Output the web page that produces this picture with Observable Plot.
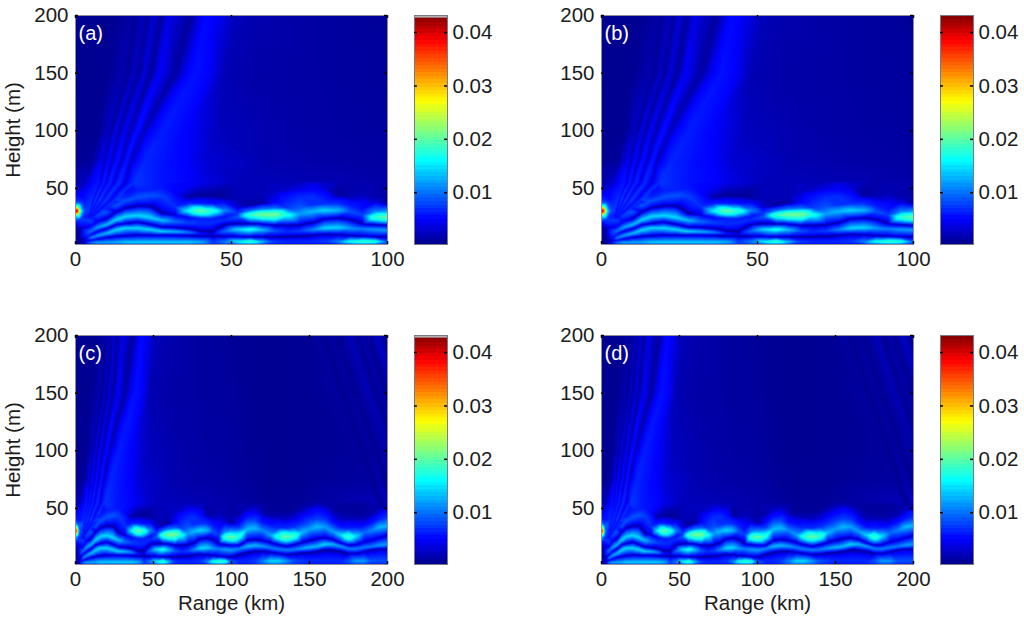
<!DOCTYPE html>
<html><head><meta charset="utf-8">
<script src="https://cdn.jsdelivr.net/npm/d3@7"></script>
<script src="https://cdn.jsdelivr.net/npm/@observablehq/plot@0.6"></script>
<style>
html,body{margin:0;padding:0;background:#fff}
#page{position:relative;width:1024px;height:621px;overflow:hidden;font-family:"Liberation Sans",Arial,sans-serif}
#page svg{position:absolute;overflow:visible}
</style></head><body><div id="page"></div>
<script>
// Field amplitude in units of 0.001. Ridges and troughs read along stations in range (km).
const stations=[3,5,7,10,13,16,20,24,28,32,36,40,44,48,52,56,60,64,68,72,76,80,84,88,92,96,100,105,110,115,120,125,130,135,140,145,150,155,160,165,170,175,180,185,190,195,200];
const bottomV=[1,4,6,7,7,8,8,8,8,8,8,8,7,8,9,10,8,6,5,5,5,5,6,9,10,10,7,6,6,7,9,11,11,10,8,7,6,6,6,6,6,7,9,9,7,7,7];
const ridge1Y=[2.5,2.8,3,3,3,3,3,3,3,3,3,3.2,3.4,3.5,3.8,3.8,3.8,3.8,3.8,3.8,3.8,3.8,3.8,3.8,3.8,3.8,3.8,4.3,4.3,4.3,4.3,4.3,4.3,4.3,4.3,4.3,4.3,4.3,4.3,4.3,4.3,4.3,4.3,4.3,4.3,4.3,4.3];
const ridge1V=[4,12,14,14,14,15,15,15,15,15,15,14,9,12,16,19,14,9,8,8,8,9,12,17,19,18,11,8,8,9,12,15,15,13,10,9,8,8,8,8,8,10,13,13,10,10,10];
const trough1Y=[3,5,6,7.5,8.5,9,9.5,9.5,9.5,9.3,9,8.5,8.3,8.3,8.3,8,8,8,8,8.5,9.5,10.5,10,9,8.5,8,8,10,12,13,13,12,11,10,10.5,11.5,12,13,14.5,14,13,11,11,12.5,14,15,15];
const trough1V=[3,5,3,1,1,1,1,1,1,1,1,1,.8,1,1,1,1,1,1,1,1.5,2,1.5,1,1,1,1,1,1,1,1,1,1,1,1,1,1,1,1.2,1.2,1.2,1.2,1.5,1.5,2,2,2];
const ridge2Y=[3.5,7.2,9,11,14,15.8,15.8,14.4,12.7,12.5,12,10.5,9.8,13,14.5,14.5,14,13,12.5,13,14,15.5,16,15.5,15,14.5,14,15,17.3,18,17.3,16,14.7,14,14.4,15.3,16.2,17,18.8,19,17.3,15.3,15,16.2,17,18,19];
const ridge2V=[4,12,13,14,15,15,15,15,15,14,12,6,4,11,15,17,14,10,8,9,12,15,15,13,12,13,13,12,14,14,13,12,12,12,12,13,14,14,15,14,13,12,12,12,12,13,13];
const trough2Y=[4,9.8,12.5,15,18.5,19.6,20.8,18.8,16.4,16,15,13,13,18.5,19.3,19.3,19,18,18,18.5,20,23.7,24.5,23,19.3,18.5,18,18,22,23,22,20.5,18.5,17.3,18.5,20.5,22,23.7,24.5,23,20,18,18.7,20.8,22.3,24.5,26.5];
const trough2V=[3,5,3,1.5,1,1,1,1,1,1,1,1.5,1.5,1.5,1,1.5,2,1.5,1,1,1,1.5,1.5,1.5,1.5,1.5,2,1.5,1.5,1.5,1.5,1.5,1.5,1.5,1.5,1.5,1.5,1.5,1.5,1.5,2,2.5,2.5,2.5,3,3,3];
const ridge3Y=[4.5,13,16,18.5,22.8,25.7,26.5,24.8,22.2,21,20,19,20,23,25,27,27.5,27.5,27,28,30,31,31,30,27,25,25,26,32,33,31,27,25.5,25.5,26,29,32,34,34,30,27,25.5,26,29,31,34,35];
const ridge3V=[4,11,13,14,15,15,15,15,14,11,9,8,8,8,10,19,22,22,17,13,14,15,14,10,9,19,21,18,14,14,12,13,18,21,19,14,13,14,13,13,15,19,15,11,12,14,14];
const trough3Y=[5,17,21,23.7,29.5,33,34.7,34.4,28,27,25,24,24,26,29,31,32,33,33,34,36,37,37,35,32,30,30,33,38,40,38,36,33,33,34,37,39,41,41,38,34,33,34,36,38,41,43];
const trough3V=[3,5,4,2,1.3,1,1,1,1.5,3.5,5,7,7,6,8,11,12,11,9,10,8,8,8,7,6,12,13,9,10,9,6,6,8,8,8,8,9,9,8,6,6,7,6,5,6,7,8];
const ridge4Y=[5.5,22,26,29.5,35,39.5,42.5,44,43,34,30.5,30.5,30.5,31,33,35,37,38,40,42,43,44,44,42,38,38,37,38,43,46,45,45,42,40,41,43,45,47,47,45,41,41,42,42,44,48,50];
const ridge4V=[4,9,9,10,10,10,10,10,9,8,16,21,18,12,4,2,2,5,7,8,8,6,2,3,5,4,2,5,6,5,3,2,3,3.5,4,5,5.5,6,5,3.5,3,3,2.5,2.5,3,3.5,4];
const upperY=[6,23.5,31,33,38,43,48,49,50,46,37,37,37,38,40,42,45,47,48,49,49,50,50,48,45,43,44,45,50,52,51,50,49,47,48,50,52,53,53,51,48,47,48,49,51,52,53];
const upperV=[4,7,8,7,7,7,7,7,6.5,5,7,7,6,5,3,3,3,3.5,4,4.5,5,4,2,2.5,3,2.5,2,2.5,3,3,2,1.2,1.5,1.5,2,2.5,3,3,2.5,2,1.8,1.8,1.8,1.8,2,2,2];
const bands=[[1.4,bottomV],[ridge1Y,ridge1V],[trough1Y,trough1V],[ridge2Y,ridge2V],[trough2Y,trough2V],[ridge3Y,ridge3V],[trough3Y,trough3V],[ridge4Y,ridge4V],[upperY,upperV]];
// Dark spot above the first large lobe.
const capX=[36,40,44,48]; const capH=[42,44,44,42]; const capV=[2.5,1.3,1.2,2];

// Rays and far field, read across fixed heights (m): range (km) and amplitude.
const rowH=[200,150,100,75,55,40,25];
const fanLeftX=[0,0,0,0,0,0,0];             const fanLeftV=[.6,.6,.7,1,2.5,8,14];
const edgeX=[12,10,7.5,5.5,3.5,2.8,2.3];    const edgeV=[.8,.9,1.2,1.6,3.5,6,7];
const rayAX=[18,15.5,10.5,8.5,7.3,5.3,4];   const rayAV=[2.2,2.7,3.5,4.5,6.5,8,7];
const darkABX=[19.7,17,11.6,9.6,8.1,5.8,4.15]; const darkABV=[1.6,1.6,2.2,3,4,5,5];
const rayBX=[21.5,18.7,12.8,10.7,9,6.3,4.3];const rayBV=[3.3,3.5,4.5,5.5,7,9,7];
const darkBCX=[23.2,20.3,14.2,12,10,7,4.45];const darkBCV=[1.8,1.8,2.5,3,3.8,5,5];
const rayCX=[25,22,15.8,13.4,11,7.7,4.6];   const rayCV=[4,4.2,5,6,7.5,9,7];
const darkCDX=[27.5,24.3,17.6,15,12.4,8.7,4.8]; const darkCDV=[2,1.8,2.5,3,3.8,5,5];
const rayDX=[30,27,19.8,16.5,13.9,9.7,5];   const rayDV=[4.5,5,6,6.5,8,9,7];
const darkDEX=[37,32,22,18,16,11.2,5.3];    const darkDEV=[1.8,2,3,3,3.5,5,5];
const rayEX=[42,38.5,27.8,22.5,19,13,5.6];  const rayEV=[5.5,6.2,7,7.5,8.5,9,7];
const fan=[[fanLeftX,fanLeftV],[edgeX,edgeV],[rayAX,rayAV],[darkABX,darkABV],[rayBX,rayBV],[darkBCX,darkBCV],[rayCX,rayCV],[darkCDX,darkCDV],[rayDX,rayDV],[darkDEX,darkDEV],[rayEX,rayEV]];

const far1X=[52,48,36,32,27];     const far1V=[3,2.9,5,5.5,6.5];
const far2X=[60,58,46,41,40];     const far2V=[2.6,2.4,3.2,4,4.5];
const far3X=[80,78,70,62,52];     const far3V=[2,2.1,2.4,2.7,3.2];
const far4X=[85,85,84,78,70];     const far4V=[1.9,1.9,2.1,2.4,3];
const far5X=[92,92,92,89,85];     const far5V=[1.7,1.8,2,2.2,2.8];
const far6X=[100,100,100,100,100];const far6V=[1.5,1.7,1.9,2.1,2.4];
const far7X=[112,112,112,112,112];const far7V=[1.1,1.2,1.4,1.6,2];
const far8X=[125,125,125,125,125];const far8V=[1,1,1,1,1.4];
const far9X=[145,145,145,145,145];const far9V=[1.2,1.1,1.1,1.2,1.6];
// Interference streaks on the right of the long-range panels.
const streak1X=[156,168,181,187,192];  const streak1V=[1.8,1.8,1.7,2,3];
const streak2X=[160,172,185,191,196];  const streak2V=[1.1,1.1,1.1,1.2,1.5];
const streak3X=[164,176,189,195,200];  const streak3V=[2.1,2.1,2,2.4,3.6];
const streak4X=[168,180,193,199,204];  const streak4V=[1.2,1.1,1.1,1.2,1.6];
const streak5X=[172,184,197,203,208];  const streak5V=[2.2,2.2,2.3,2.6,3.8];
const streak6X=[176,188,201,207,212];  const streak6V=[3.1,3,2.6,2.6,3];
const streak7X=[180,192,205,211,216];  const streak7V=[1.4,1.4,1.4,1.4,1.6];
const streak8X=[184,196,209,215,220];  const streak8V=[2.3,2.3,2.2,2,2];
const streak9X=[188,200,213,219,224];  const streak9V=[1.4,1.4,1.4,1.4,1.6];
const streak10X=[193,205,218,224,229]; const streak10V=[3.5,3.2,2.4,2.2,2];
const streak11X=[197,209,222,228,233]; const streak11V=[1.8,1.8,1.6,1.6,1.6];
const streak12X=[200,212,225,231,236]; const streak12V=[2.8,2.6,2.2,2,2];
const far=[[far1X,far1V],[far2X,far2V],[far3X,far3V],[far4X,far4V],[far5X,far5V],[far6X,far6V],[far7X,far7V],[far8X,far8V],[far9X,far9V],[streak1X,streak1V],[streak2X,streak2V],[streak3X,streak3V],[streak4X,streak4V],[streak5X,streak5V],[streak6X,streak6V],[streak7X,streak7V],[streak8X,streak8V],[streak9X,streak9V],[streak10X,streak10V],[streak11X,streak11V],[streak12X,streak12V]];

// Source near range 0: range, height, amplitude.
const sourceX=[0,0.6,0,0,0,0,0,0,0,0,0,1,1,1,1.5,1.5,2,2,2,3.2,1.5,1.5,1.5,3];
const sourceH=[30.5,30.5,27,34,37,20,46,15,8,1.4,50,30.5,27,34,23,38,30.5,26,35,30.5,15,8,1.4,1.4];
const sourceV=[40,41,24,24,12,5,4.5,2,1.5,1,3.2,30,19,19,9,9,15,11,11,9,2,1.5,1,1];

const xTicksTop=[0,50,100], xTicksBottom=[0,50,100,150,200], yTicks=[50,100,150,200];
const barTicks=[10,20,30,40], barLabels=["0.01","0.02","0.03","0.04"];
const colorStops=[0.3,5.0,16,27.1,38.4,43.2];
const colorRange=["#00008f","#0000ff","#00ffff","#ffff00","#ff0000","#800000"];
const yMin=1.4,yMax=200,barMin=0.3,barMax=43.2;
const ink="#1c1c1c",fontFamily='"Liberation Sans",Arial,sans-serif',fontSize=20.5;

// Build the table of control points; rays keep their order so that cells follow the rays.
const points=[];
const columns=[...fan,...far];
const cellId=new Map();
columns.forEach(([xs,vs],c)=>xs.forEach((x,r)=>{cellId.set(r+","+c,points.length);points.push({x,y:rowH[r],v:vs[r]});}));
stations.forEach((x,i)=>{for(const [ys,vs] of bands)points.push({x,y:typeof ys==="number"?ys:ys[i],v:vs[i]});});
capX.forEach((x,i)=>points.push({x,y:capH[i],v:capV[i]}));
sourceX.forEach((x,i)=>points.push({x,y:sourceH[i],v:sourceV[i]}));
const cells=[];
for(let c=0;c<columns.length-1;c++)for(let r=0;r<rowH.length-1;r++){
  if(c===0&&r>=3)continue; // the source and its halo are blended freely
  if(c===1&&r>=5)continue;
  const a=cellId.get(r+","+c),b=cellId.get(r+","+(c+1)),d=cellId.get((r+1)+","+c),e=cellId.get((r+1)+","+(c+1));
  if(a==null||b==null||d==null||e==null)continue;
  cells.push([a,b,e],[a,e,d]);
}
// Delaunay everywhere, then blend along the rays inside the ray cells.
function rayAware(){
  const base=Plot.interpolatorBarycentric();
  return (index,w,h,X,Y,V)=>{
    const W=base(index,w,h,X,Y,V);
    for(const [a,b,c] of cells){
      const ax=X[a],ay=Y[a],bx=X[b],by=Y[b],cx=X[c],cy=Y[c];
      const det=(by-cy)*(ax-cx)+(cx-bx)*(ay-cy);
      if(!det)continue;
      const x0=Math.max(0,Math.floor(Math.min(ax,bx,cx))),x1=Math.min(w-1,Math.ceil(Math.max(ax,bx,cx)));
      const y0=Math.max(0,Math.floor(Math.min(ay,by,cy))),y1=Math.min(h-1,Math.ceil(Math.max(ay,by,cy)));
      for(let y=y0;y<=y1;y++)for(let x=x0;x<=x1;x++){
        const px=x+0.5,py=y+0.5;
        const u=((by-cy)*(px-cx)+(cx-bx)*(py-cy))/det,v=((cy-ay)*(px-cx)+(ax-cx)*(py-cy))/det,t=1-u-v;
        if(u>=0&&v>=0&&t>=0)W[y*w+x]=u*V[a]+v*V[b]+t*V[c];
      }
    }
    return W;
  };
}

// The raster blends field intensity (amplitude squared), which keeps ridges broad and troughs thin.
const intensityScale={type:"linear",domain:colorStops.map(s=>s*s),range:colorRange,interpolate:"rgb"};
const amplitudeScale={type:"linear",domain:colorStops,range:colorRange,interpolate:"rgb"};
const page=document.getElementById("page");
const ml=75,mr=12,mt=10,mb=46;
function place(svg,left,top){svg.style.left=left+"px";svg.style.top=top+"px";page.appendChild(svg);}

function panel(left,top,xMax,xTicks,letter,showY,showX){
  const tx=3*xMax/312, ty=3*(yMax-yMin)/229;
  const svg=Plot.plot({width:312+ml+mr,height:229+mt+mb,marginLeft:ml,marginRight:mr,marginTop:mt,marginBottom:mb,
    style:{fontFamily,fontSize:fontSize+"px",color:ink,background:"transparent"},
    x:{domain:[0,xMax]},y:{domain:[yMin,yMax]},color:intensityScale,
    marks:[
      Plot.raster(points,{x:"x",y:"y",fill:d=>d.v*d.v,x1:0,x2:xMax,y1:yMin,y2:yMax,interpolate:rayAware(),pixelSize:1}),
      Plot.frame({stroke:"#8d8d9a",strokeWidth:1}),
      Plot.ruleX(xTicks,{x:d=>d,y1:yMin,y2:yMin+ty,stroke:"#000",strokeWidth:1.5}),
      Plot.ruleX(xTicks,{x:d=>d,y1:yMax-ty,y2:yMax,stroke:"#000",strokeWidth:1.5}),
      Plot.ruleY(yTicks,{y:d=>d,x1:0,x2:tx,stroke:"#000",strokeWidth:1.5}),
      Plot.ruleY(yTicks,{y:d=>d,x1:xMax-tx,x2:xMax,stroke:"#000",strokeWidth:1.5}),
      Plot.axisX({anchor:"bottom",ticks:xTicks,tickSize:0,tickPadding:7,label:showX?"Range (km)":null,labelAnchor:"center",labelArrow:"none",labelOffset:45,tickFormat:d=>d}),
      Plot.axisY({anchor:"left",ticks:yTicks,tickSize:0,tickPadding:7,label:showY?"Height (m)":null,labelAnchor:"center",labelArrow:"none",labelOffset:70,tickFormat:d=>d}),
      Plot.text([letter],{frameAnchor:"top-left",dx:3,dy:10,fill:"#fff",fontSize:20,textAnchor:"start"})
    ]});
  place(svg,left-ml,top-mt);
}

function bar(left,top,cap){
  const step=(barMax-barMin)/64;
  const levels=d3.range(64).map(i=>barMin+i*step);
  const marks=[
    Plot.rect(levels,{x1:0,x2:1,y1:d=>d,y2:d=>d+step,fill:d=>d+step/2,shapeRendering:"crispEdges"}),
  ];
  if(cap)marks.push(Plot.rect([barMax],{x1:0,x2:1,y1:d=>d-0.5,y2:d=>d,fill:"#b0b0b0"}));
  marks.push(
    Plot.frame({stroke:"#777a88",strokeWidth:1}),
    Plot.ruleY(barTicks,{y:d=>d,x1:0,x2:0.09,stroke:"#000",strokeWidth:1.5}),
    Plot.ruleY(barTicks,{y:d=>d,x1:0.91,x2:1,stroke:"#000",strokeWidth:1.5}),
    Plot.axisY({anchor:"right",ticks:barTicks,tickSize:0,tickPadding:5,tickFormat:d=>barLabels[barTicks.indexOf(d)],label:null})
  );
  const svg=Plot.plot({width:33+10+51,height:229+mt+20,marginLeft:10,marginRight:51,marginTop:mt,marginBottom:20,
    style:{fontFamily,fontSize:fontSize+"px",color:ink,background:"transparent"},
    x:{domain:[0,1],axis:null},y:{domain:[barMin,barMax]},color:amplitudeScale,marks});
  place(svg,left-10,top-mt);
}

panel(75,15,100,xTicksTop,"(a)",true,false);
panel(601,15,100,xTicksTop,"(b)",false,false);
panel(75,335,200,xTicksBottom,"(c)",true,true);
panel(601,335,200,xTicksBottom,"(d)",false,true);
bar(414,15,true);bar(940,15,false);bar(414,335,true);bar(940,335,false);
</script></body></html>
